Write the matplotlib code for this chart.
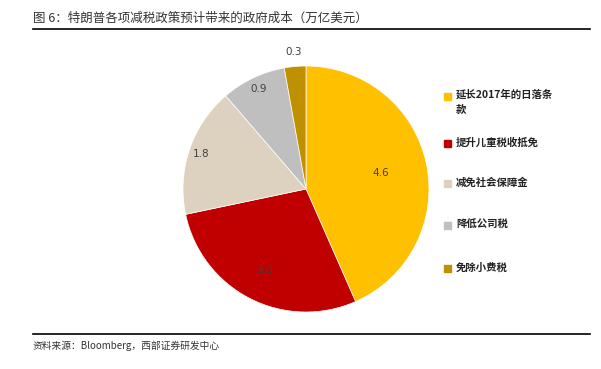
import numpy as np
import matplotlib
matplotlib.use('Agg')
import matplotlib.pyplot as plt

plt.rcParams['font.family'] = ['Noto Sans CJK SC', 'DejaVu Sans']

# data
categories = ['延长2017年的日落条\n款', '提升儿童税收抵免', '减免社会保障金', '降低公司税', '免除小费税']
values = [4.6, 3.0, 1.8, 0.9, 0.3]
value_labels = ['4.6', '3.0', '1.8', '0.9', '0.3']
colors = ['#FFC000', '#C00000', '#DDD2BF', '#BFBFBF', '#BF9000']

title = '图 6：特朗普各项减税政策预计带来的政府成本（万亿美元）'
source = '资料来源：Bloomberg，西部证券研发中心'

W, H = 601, 369
fig = plt.figure(figsize=(W / 100, H / 100), dpi=100)

# pie axes: centre (306, 189) px, radius 123 px
cx, cy, r = 306, 189, 123
ax = fig.add_axes([(cx - r) / W, (H - cy - r) / H, 2 * r / W, 2 * r / H])
wedges, _ = ax.pie(values, colors=colors, startangle=90, counterclock=False,
                   radius=1, wedgeprops=dict(linewidth=0.5, edgecolor='white'))
ax.set_xlim(-1, 1)
ax.set_ylim(-1, 1)
ax.set_aspect('equal')
ax.axis('off')

# value labels
dists = [0.62, 0.74, 0.9, 0.9, 1.12]
for w, lab, d in zip(wedges, value_labels, dists):
    ang = np.deg2rad((w.theta1 + w.theta2) / 2)
    ax.text(d * np.cos(ang), d * np.sin(ang), lab, ha='center', va='center',
            fontsize=7.5, color='#404040', family=['DejaVu Sans'], clip_on=False)

# title and rules
fig.text(33 / W, 1 - 18 / H, title, fontsize=9, color='#333333', va='center', ha='left')
fig.add_artist(plt.Line2D([33 / W, 590 / W], [1 - 29 / H, 1 - 29 / H], color='black', lw=1.2))
fig.add_artist(plt.Line2D([33 / W, 590 / W], [1 - 334 / H, 1 - 334 / H], color='black', lw=1.2))
fig.text(33 / W, 1 - 346 / H, source, fontsize=7, color='#333333', va='center', ha='left')

# legend
leg_y = [96, 143, 183, 225, 268]
for cat, col, y in zip(categories, colors, leg_y):
    fig.add_artist(plt.Rectangle((444 / W, 1 - (y + 3.5) / H), 7 / W, 7 / H,
                                 color=col, transform=fig.transFigure))
    if '\n' in cat:
        fig.text(456 / W, 1 - (y - 7) / H, cat, fontsize=7.5, fontweight='bold',
                 color='#222222', va='top', ha='left', linespacing=1.6)
    else:
        fig.text(456 / W, 1 - y / H, cat, fontsize=7.5, fontweight='bold',
                 color='#222222', va='center', ha='left')

fig.savefig('out.png', dpi=100)
